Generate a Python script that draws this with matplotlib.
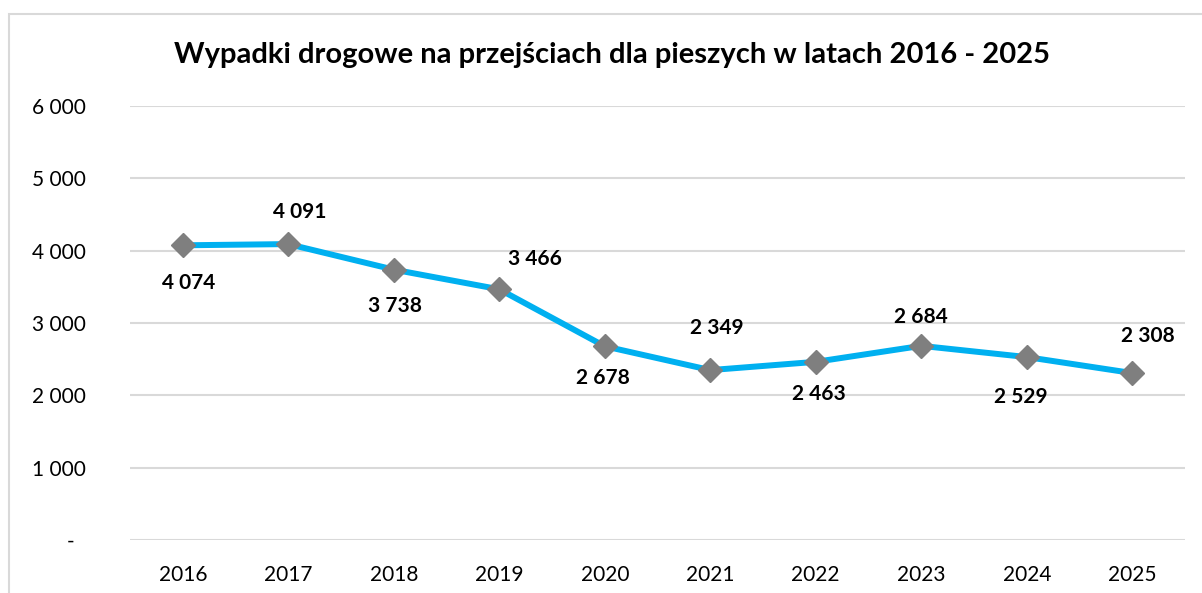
import matplotlib

matplotlib.use("Agg")
import matplotlib.pyplot as plt
from matplotlib.patches import Rectangle

plt.rcParams["font.family"] = ["Lato", "DejaVu Sans"]

# data
years = ["2016", "2017", "2018", "2019", "2020", "2021", "2022", "2023", "2024", "2025"]
accidents = [4074, 4091, 3738, 3466, 2678, 2349, 2463, 2684, 2529, 2308]
y_ticks = [0, 1000, 2000, 3000, 4000, 5000, 6000]
y_tick_labels = ["-  ", "1 000", "2 000", "3 000", "4 000", "5 000", "6 000"]
title = "Wypadki drogowe na przejściach dla pieszych w latach 2016 - 2025"

# label offsets (points) for the data labels, as placed in the original
label_offsets = [(4, -27), (8, 23), (1, -26), (26, 22), (-1, -23),
                 (5, 30), (2, -23), (0, 21), (-4, -29), (11, 27)]

LINE_C = "#00b0f0"
MARK_C = "#7f7f7f"
GRID_C = "#d9d9d9"

fig = plt.figure(figsize=(12.02, 5.93), dpi=100)
ax = fig.add_axes([130 / 1202, 1 - 540 / 593, 1055 / 1202, 434 / 593])

# chart border
fig.patches.append(Rectangle((9 / 1202, -0.05), 1.1, 1 - 14 / 593 + 0.05,
                             transform=fig.transFigure, fill=False,
                             ec=GRID_C, lw=1.5, zorder=0))

x = list(range(len(years)))
ax.plot(x, accidents, color=LINE_C, lw=4.3, marker="D", ms=12.5,
        mfc=MARK_C, mec=MARK_C, zorder=3, solid_capstyle="round")

for xi, v, (dx, dy) in zip(x, accidents, label_offsets):
    ax.annotate(f"{v:,}".replace(",", " "), (xi, v), xytext=(dx, dy),
                textcoords="offset points", ha="center", va="center",
                fontsize=15, fontweight="bold", color="black")

ax.set_xlim(-0.5, len(years) - 0.5)
ax.set_ylim(0, 6000)
ax.set_xticks(x, years)
ax.set_yticks(y_ticks, y_tick_labels)
ax.tick_params(length=0, labelsize=15)
ax.tick_params(axis="x", pad=18)
ax.tick_params(axis="y", pad=32)
ax.grid(axis="y", color=GRID_C, lw=1.5)
ax.set_axisbelow(True)
for s in ax.spines.values():
    s.set_visible(False)

fig.text(612 / 1202, 1 - 55 / 593, title, ha="center", va="center",
         fontsize=21, fontweight="bold")

fig.savefig("out.png", dpi=100, facecolor="white")
